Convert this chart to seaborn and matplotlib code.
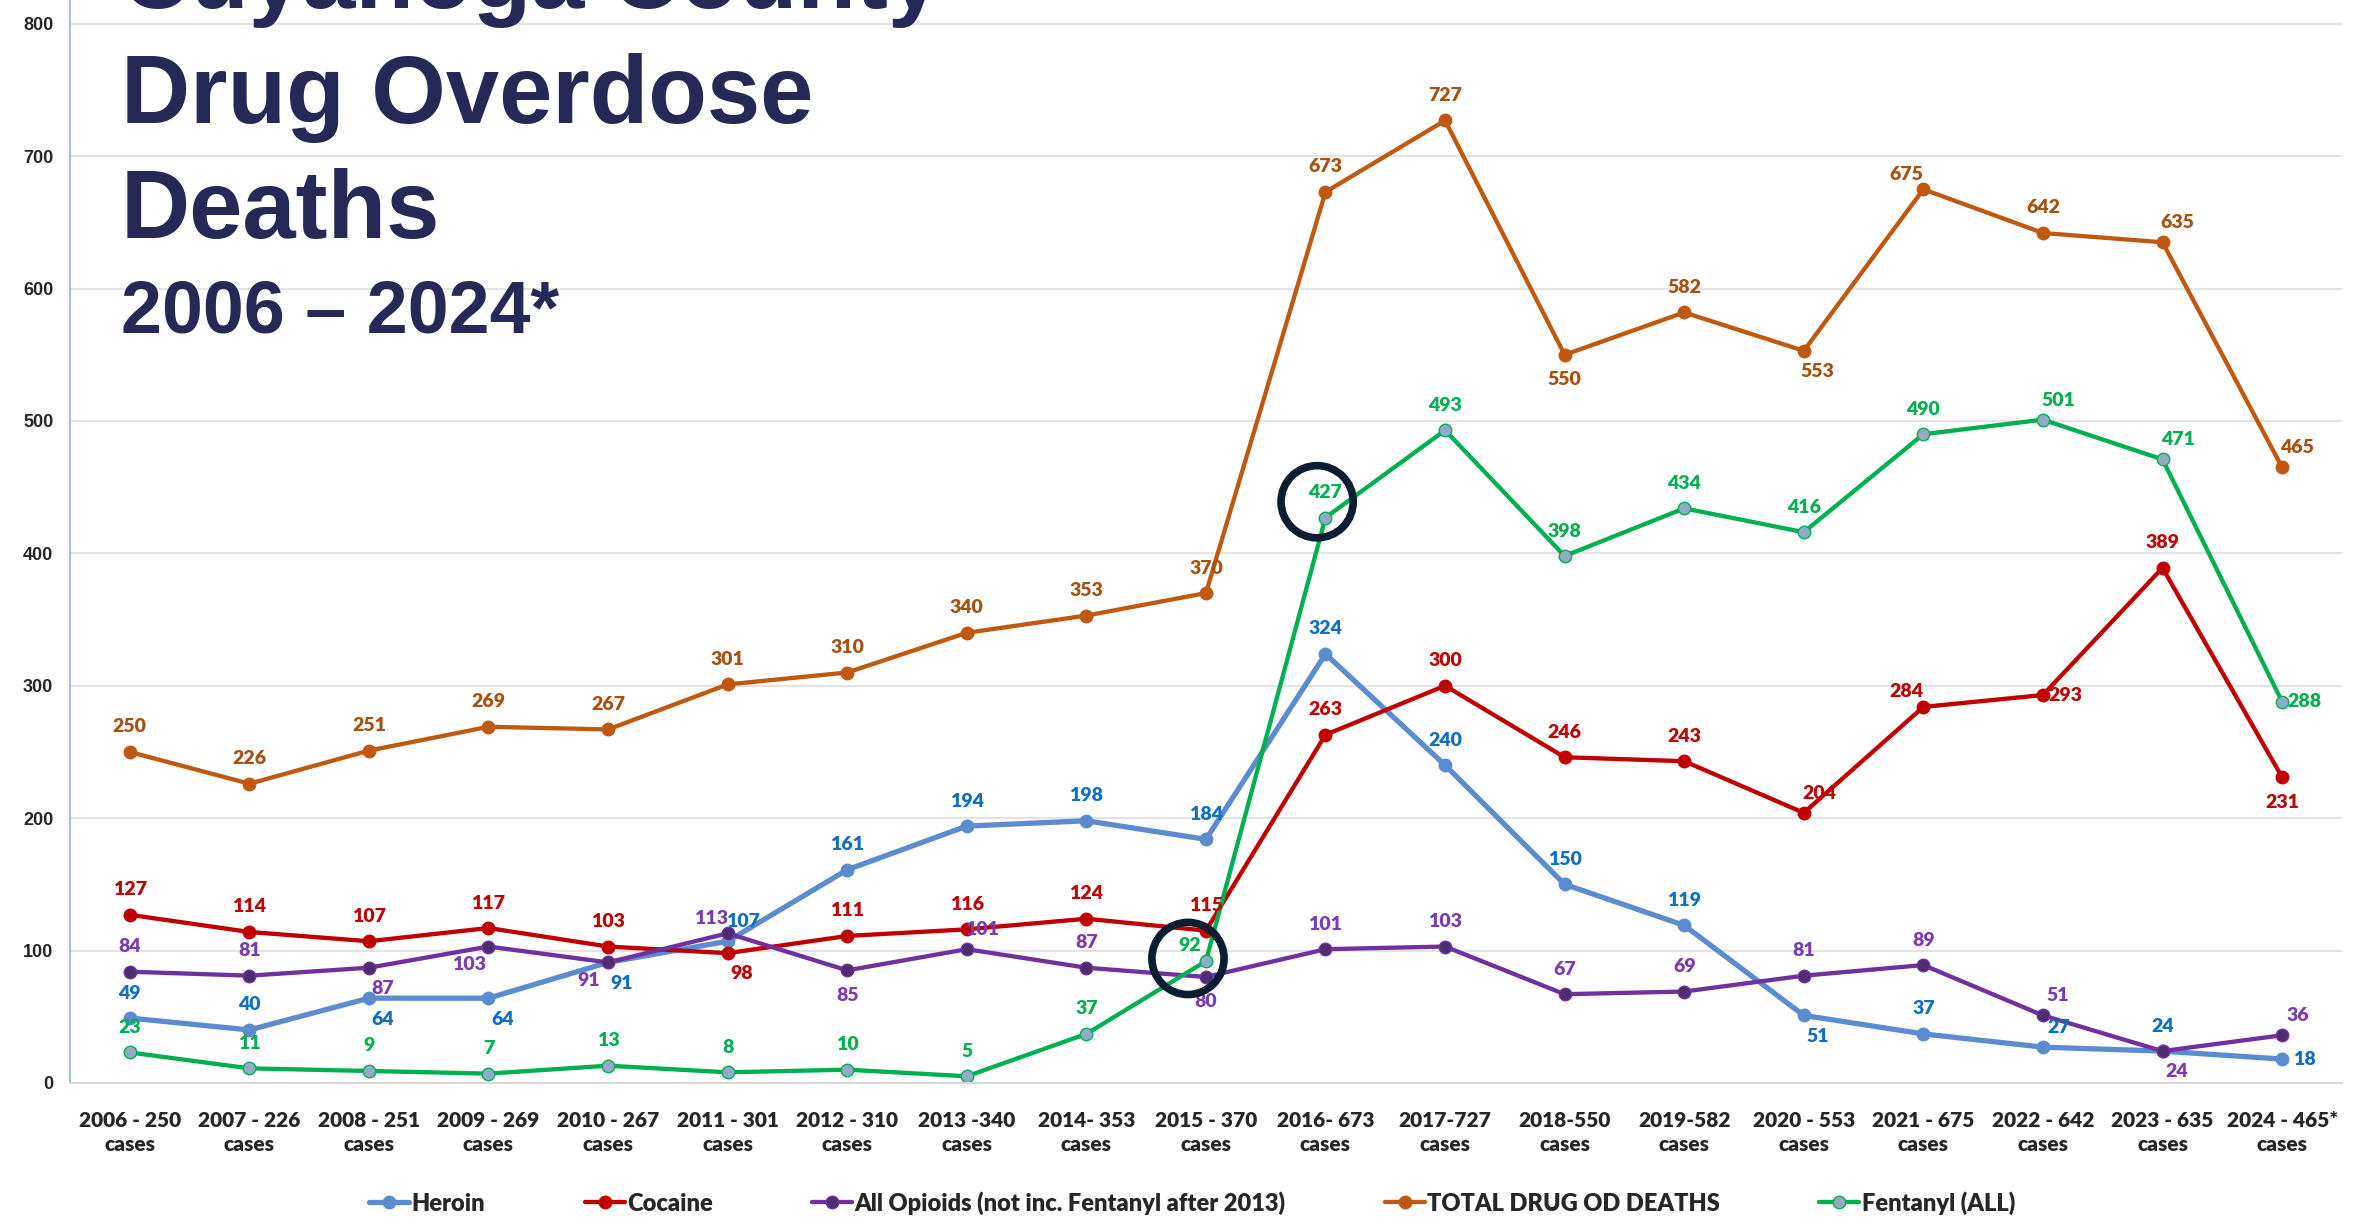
import seaborn as sns
import pandas as pd
from matplotlib import pyplot as plt

# values
years = ['2006 - 250', '2007 - 226', '2008 - 251', '2009 - 269', '2010 - 267',
         '2011 - 301', '2012 - 310', '2013 -340', '2014- 353', '2015 - 370',
         '2016- 673', '2017-727', '2018-550', '2019-582', '2020 - 553',
         '2021 - 675', '2022 - 642', '2023 - 635', '2024 - 465*']
heroin = [49, 40, 64, 64, 91, 107, 161, 194, 198, 184, 324, 240, 150, 119, 51, 37, 27, 24, 18]
cocaine = [127, 114, 107, 117, 103, 98, 111, 116, 124, 115, 263, 300, 246, 243, 204, 284, 293, 389, 231]
opioids = [84, 81, 87, 103, 91, 113, 85, 101, 87, 80, 101, 103, 67, 69, 81, 89, 51, 24, 36]
total = [250, 226, 251, 269, 267, 301, 310, 340, 353, 370, 673, 727, 550, 582, 553, 675, 642, 635, 465]
fentanyl = [23, 11, 9, 7, 13, 8, 10, 5, 37, 92, 427, 493, 398, 434, 416, 490, 501, 471, 288]

# where each data label sits relative to its point
heroin_pos = ['a', 'a', 'br', 'br', 'br', 'ar', 'a', 'a', 'a', 'a', 'a', 'a', 'a', 'a', 'br', 'a', 'ar', 'a', 'r']
cocaine_pos = ['a', 'a', 'a', 'a', 'a', 'br', 'a', 'a', 'a', 'a', 'a', 'a', 'a', 'a', 'ar', 'al', 'r', 'a', 'b']
opioids_pos = ['a', 'a', 'br', 'bl', 'bl', 'al', 'b', 'ar', 'a', 'b', 'a', 'a', 'a', 'a', 'a', 'a', 'ar', 'br', 'ar']
total_pos = ['a'] * 12 + ['b', 'a', 'br', 'al', 'a', 'ar', 'ar']
fentanyl_pos = ['a'] * 9 + ['al', 'a', 'a', 'a', 'a', 'a', 'a', 'ar', 'ar', 'r']

offsets = {'a': (0, 18), 'b': (0, -18), 'r': (16, 0), 'ar': (11, 14), 'al': (-12, 11),
           'br': (10, -15), 'bl': (-14, -13)}

series = [
    ('Heroin', heroin, heroin_pos, '#5a8ccf', '#5a8ccf', '#0f6fc4', 3.8),
    ('Cocaine', cocaine, cocaine_pos, '#c00000', '#c00000', '#c00000', 3.1),
    ('All Opioids (not inc. Fentanyl after 2013)', opioids, opioids_pos, '#7030a0', '#4e2d6e', '#7a3cb0', 3.1),
    ('TOTAL DRUG OD DEATHS', total, total_pos, '#c0590f', '#c0590f', '#a8500f', 3.1),
    ('Fentanyl (ALL)', fentanyl, fentanyl_pos, '#00b050', '#93a9c9', '#00b050', 3.1),
]

sns.set_style('white')
plt.rcParams['font.family'] = ['Lato', 'DejaVu Sans']

fig = plt.figure(figsize=(23.56, 12.25), dpi=100)
ax = fig.add_axes([0.0297, 0.116, 0.9643, 0.884])

idx = list(range(len(years)))
for name, vals, pos, lc, mc, tc, lw in series:
    df = pd.DataFrame({'x': idx, 'y': vals})
    sns.lineplot(data=df, x='x', y='y', ax=ax, color=lc, linewidth=lw, label=name,
                 marker='o', markersize=9, markerfacecolor=mc, markeredgecolor=lc,
                 markeredgewidth=1.0)
    for i, v in enumerate(vals):
        dx, dy = offsets[pos[i]]
        ax.annotate(str(v), (i, v), xytext=(dx, dy), textcoords='offset points',
                    ha='center', va='center', fontsize=14, fontweight='heavy', color=tc)

# highlight circles around the 2015 and 2016 fentanyl labels
ax.scatter([8.85, 9.93], [94, 439], s=2700, facecolors='none', edgecolors='#0b1d30',
           linewidths=5.5, zorder=5)

ax.set_xlim(-0.5, 18.5)
ax.set_ylim(0, 818)
ax.set_yticks(range(0, 801, 100))
ax.set_yticks(range(50, 800, 100), minor=True)
ax.set_xticks(idx)
ax.set_xticklabels([y + '\ncases' for y in years], fontsize=15, fontweight='heavy',
                   linespacing=1.35)
ax.set_xlabel('')
ax.set_ylabel('')
for lab in ax.get_yticklabels():
    lab.set_family(['Liberation Sans Narrow', 'Liberation Sans'])
    lab.set_fontweight('bold')
    lab.set_fontsize(13)
ax.tick_params(axis='y', which='both', length=4, color='#8eb4e3', direction='out', pad=8)
ax.tick_params(axis='x', length=0, pad=20)
ax.grid(axis='y', color='#e3e3e3', linewidth=1.5)
ax.set_axisbelow(True)
for s in ['top', 'right']:
    ax.spines[s].set_visible(False)
ax.spines['left'].set_color('#8eb4e3')
ax.spines['left'].set_linewidth(1.2)
ax.spines['bottom'].set_color('#d9d9d9')
ax.spines['bottom'].set_linewidth(1.5)

ax.legend(loc='center', bbox_to_anchor=(0.506, 1 - 1203 / 1225), bbox_transform=fig.transFigure,
          ncol=5, frameon=False, prop={'weight': 'heavy', 'size': 17},
          columnspacing=4.2, handlelength=1.7, handletextpad=0.1)

# title block in the upper left
navy = '#262856'
tx = 121 / 2356
fig.text(tx, 1 - 8 / 1225, 'Cuyahoga County', fontsize=69, fontweight='bold',
         color=navy, family='Liberation Sans', va='baseline')
fig.text(tx, 1 - 123 / 1225, 'Drug Overdose', fontsize=69, fontweight='bold',
         color=navy, family='Liberation Sans', va='baseline')
fig.text(tx, 1 - 238 / 1225, 'Deaths', fontsize=69, fontweight='bold',
         color=navy, family='Liberation Sans', va='baseline')
fig.text(tx, 1 - 333 / 1225, '2006 \u2013 2024*', fontsize=53, fontweight='bold',
         color=navy, family='Liberation Sans', va='baseline')

fig.savefig('out.png', dpi=100)
